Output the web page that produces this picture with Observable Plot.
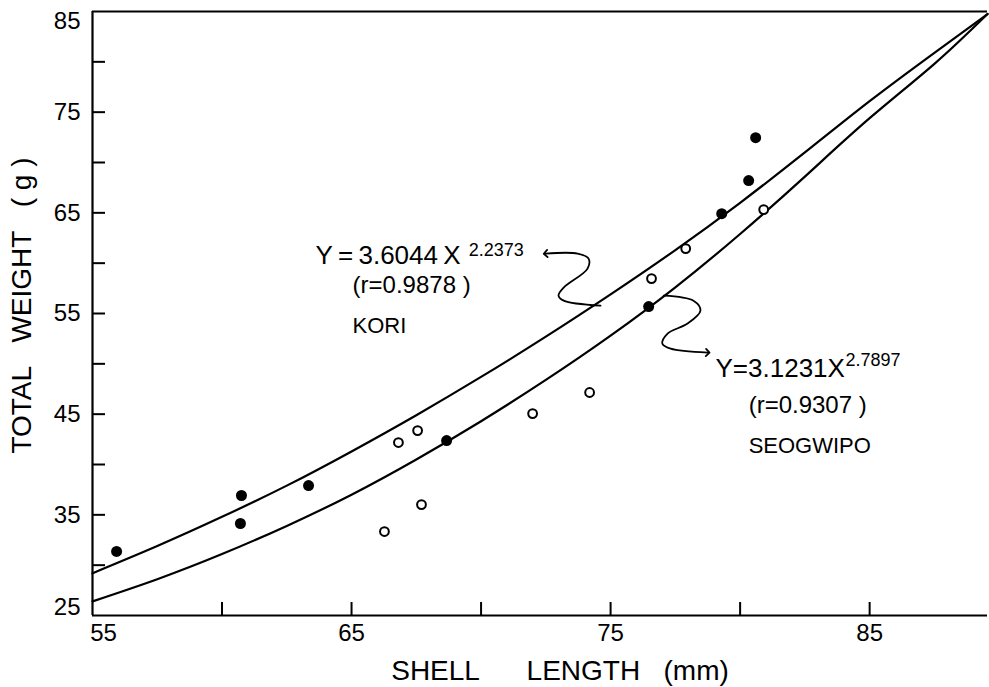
<!DOCTYPE html>
<html>
<head>
<meta charset="utf-8">
<script src="https://cdn.jsdelivr.net/npm/d3@7"></script>
<script src="https://cdn.jsdelivr.net/npm/@observablehq/plot@0.6"></script>
<style>
  html, body { margin: 0; padding: 0; background: #fff; }
  #chart { width: 989px; height: 687px; }
</style>
</head>
<body>
<div id="chart"></div>
<script>
// ---- Data ----
// Filled circles (KORI)
const filledX = [55.93, 60.75, 60.71, 63.34, 68.67, 76.47, 79.29, 80.33, 80.60];
const filledY = [31.36, 36.92, 34.14, 37.91, 42.38, 55.69, 64.92, 68.20, 72.47];
// Open circles (SEOGWIPO)
const openX = [66.27, 67.70, 66.81, 67.55, 71.99, 74.19, 76.58, 77.90, 80.91];
const openY = [33.34, 36.02, 42.18, 43.37, 45.06, 47.15, 58.47, 61.45, 65.32];

// Fitted curves
const koriCurveX = [55, 57.5, 60, 62.5, 65, 67.5, 70, 72.5, 75, 77.5, 80, 82.5, 85, 87.5, 89.55];
const koriCurveY = [29.2, 31.9, 34.8, 37.9, 41.3, 44.9, 48.7, 52.7, 56.9, 61.3, 66.0, 71.0, 76.1, 80.9, 84.75];
const seoCurveX = [55, 57.5, 60, 62.5, 65, 67.5, 70, 72.5, 75, 77.5, 80, 82.5, 85, 87.5, 89.55];
const seoCurveY = [26.4, 28.6, 31.1, 33.9, 37.0, 40.5, 44.3, 48.4, 52.8, 57.6, 62.9, 68.6, 74.4, 79.8, 84.75];

// Wavy annotation arrows (from curve to label)
const koriArrowX = [74.61, 73.19, 72.99, 73.19, 74.11, 74.15, 73.73, 72.49];
const koriArrowY = [55.78, 56.28, 56.78, 57.57, 59.46, 60.45, 60.95, 60.95];
const seoArrowX = [77.05, 78.20, 78.47, 77.97, 77.20, 77.00, 77.32, 78.75];
const seoArrowY = [56.78, 56.27, 55.29, 54.00, 53.00, 52.00, 51.51, 51.12];

// Ticks
const xTickLabelsMid = [65, 75, 85];
const xTickLabelFirst = [55];
const xTicksAll = [60, 65, 70, 75, 80, 85];
const yTickLabelsMid = [35, 45, 55, 65, 75];
const yTickLabelTop = [85];
const yTickLabelBottom = [25];
const yTicksAll = [30, 35, 40, 45, 50, 55, 60, 65, 70, 75, 80];

// Text
const xTitle = "SHELL\u00a0\u00a0\u00a0\u00a0\u00a0\u00a0LENGTH\u00a0\u00a0\u00a0(mm)";
const yTitle = "TOTAL\u00a0\u00a0\u00a0WEIGHT\u00a0\u00a0\u00a0(\u00a0g\u00a0)";
const annMain = [
  {x: 63.61, y: 60.75, t: "Y\u2009=\u20093.6044\u2009X"},
  {x: 79.05, y: 49.53, t: "Y=3.1231X"}
];
const annSup = [
  {x: 69.52, y: 61.30, t: "2.2373"},
  {x: 84.07, y: 50.35, t: "2.7897"}
];
const annR = [
  {x: 65.04, y: 57.77, t: "(r=0.9878\u00a0)"},
  {x: 80.33, y: 45.85, t: "(r=0.9307\u00a0)"}
];
const annName = [
  {x: 65.04, y: 53.80, t: "KORI"},
  {x: 80.33, y: 41.88, t: "SEOGWIPO"}
];

const font = "'Liberation Sans', Arial, Helvetica, sans-serif";

const chart = Plot.plot({
  width: 989,
  height: 687,
  marginLeft: 92,
  marginRight: 2,
  marginTop: 11,
  marginBottom: 72,
  x: {domain: [55, 89.55]},
  y: {domain: [25, 85]},
  style: {fontFamily: font, background: "white", color: "black"},
  marks: [
    // frame lines (left, bottom, top)
    Plot.ruleX([55], {strokeWidth: 2.2}),
    Plot.ruleY([25], {strokeWidth: 2.2}),
    Plot.ruleY([85], {strokeWidth: 2.2}),
    // inward ticks
    Plot.axisY({ticks: yTicksAll, tickSize: -13, tickFormat: () => "", label: null, strokeWidth: 2}),
    Plot.axisX({ticks: xTicksAll, tickSize: -13, tickFormat: () => "", label: null, strokeWidth: 2}),
    // tick labels
    Plot.axisY({ticks: yTickLabelsMid, tickSize: 0, tickPadding: 12, fontSize: 24, label: null}),
    Plot.axisY({ticks: yTickLabelTop, tickSize: 0, tickPadding: 12, fontSize: 24, label: null, dy: 10}),
    Plot.axisY({ticks: yTickLabelBottom, tickSize: 0, tickPadding: 12, fontSize: 24, label: null, dy: -8}),
    Plot.axisX({ticks: xTickLabelsMid, tickSize: 0, tickPadding: 8, fontSize: 24, label: null}),
    Plot.axisX({ticks: xTickLabelFirst, tickSize: 0, tickPadding: 8, fontSize: 24, label: null, dx: 11}),
    // axis titles
    Plot.text([xTitle], {text: d => d, frameAnchor: "bottom", textAnchor: "middle", dy: 56, dx: 20, fontSize: 28, lineAnchor: "middle"}),
    Plot.text([yTitle], {text: d => d, frameAnchor: "left", textAnchor: "middle", dx: -70, dy: -8, rotate: -90, fontSize: 28, lineAnchor: "middle"}),
    // curves
    Plot.line(koriCurveX, {x: koriCurveX, y: koriCurveY, curve: "natural", strokeWidth: 2.2}),
    Plot.line(seoCurveX, {x: seoCurveX, y: seoCurveY, curve: "natural", strokeWidth: 2.2}),
    // annotation arrows
    Plot.line(koriArrowX, {x: koriArrowX, y: koriArrowY, curve: "catmull-rom", strokeWidth: 1.8, markerEnd: "arrow"}),
    Plot.line(seoArrowX, {x: seoArrowX, y: seoArrowY, curve: "catmull-rom", strokeWidth: 1.8, markerEnd: "arrow"}),
    // points
    Plot.dot(filledX, {x: filledX, y: filledY, r: 5.5, fill: "black", stroke: "none"}),
    Plot.dot(openX, {x: openX, y: openY, r: 4.4, fill: "white", stroke: "black", strokeWidth: 2}),
    // annotation text
    Plot.text(annMain, {x: "x", y: "y", text: "t", textAnchor: "start", lineAnchor: "middle", fontSize: 26}),
    Plot.text(annSup, {x: "x", y: "y", text: "t", textAnchor: "start", lineAnchor: "middle", fontSize: 18}),
    Plot.text(annR, {x: "x", y: "y", text: "t", textAnchor: "start", lineAnchor: "middle", fontSize: 24}),
    Plot.text(annName, {x: "x", y: "y", text: "t", textAnchor: "start", lineAnchor: "middle", fontSize: 22})
  ]
});
document.getElementById("chart").appendChild(chart);
</script>
</body>
</html>
